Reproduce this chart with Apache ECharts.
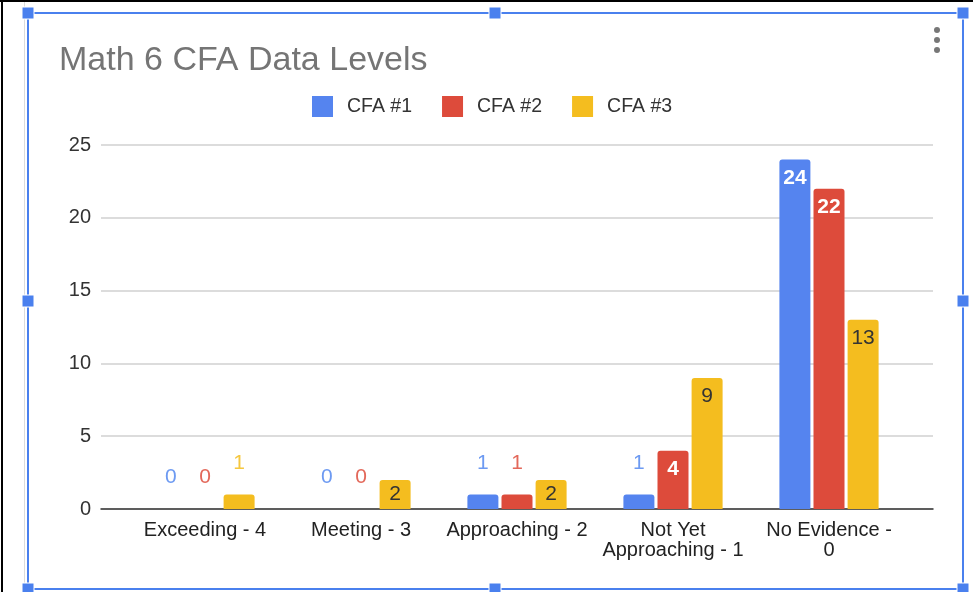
<!DOCTYPE html>
<html>
<head>
<meta charset="utf-8">
<script src="https://cdn.jsdelivr.net/npm/echarts@6/dist/echarts.min.js"></script>
<style>
  html, body { margin: 0; padding: 0; background: #fff; }
  #chart { width: 973px; height: 592px; }
</style>
</head>
<body>
<div id="chart"></div>
<script>
// data
const categories = ['Exceeding - 4', 'Meeting - 3', 'Approaching - 2', 'Not Yet Approaching - 1', 'No Evidence - 0']
const tickLabels = ['Exceeding - 4', 'Meeting - 3', 'Approaching - 2', 'Not Yet\nApproaching - 1', 'No Evidence -\n0']
const cfa1 = [0, 0, 1, 1, 24]
const cfa2 = [0, 0, 1, 4, 22]
const cfa3 = [1, 2, 2, 9, 13]
const seriesNames = ['CFA #1', 'CFA #2', 'CFA #3']
const yTicks = [0, 5, 10, 15, 20, 25]

const colors = ['#5584ef', '#dd4b3b', '#f4bd1f']
const outsideColors = ['#6d9af2', '#e3685a', '#f5c73f']
const insideColors = ['#ffffff', '#ffffff', '#333333']
const FONT = '"Liberation Sans", Arial, sans-serif'

// labels: short bars get label above in series colour, others inside
const buildData = (values, idx) => values.map(v => {
  if (v < 2) {
    return {
      value: v,
      label: { position: 'top', distance: 21, color: outsideColors[idx] }
    }
  }
  return {
    value: v,
    label: {
      position: v <= 2 ? 'inside' : 'insideTop',
      distance: 8,
      color: insideColors[idx],
      fontWeight: idx < 2 ? 'bold' : 'normal'
    }
  }
})

const chart = echarts.init(document.getElementById('chart'))

const makeSeries = (name, values, idx) => ({
  name: name,
  type: 'bar',
  xAxisIndex: 0,
  yAxisIndex: 0,
  barWidth: 31,
  barGap: '10%',
  itemStyle: { color: colors[idx], borderRadius: [3, 3, 0, 0] },
  label: {
    show: true,
    fontFamily: FONT,
    fontSize: 21
  },
  data: buildData(values, idx)
})

// selection frame + handles (spreadsheet chrome)
const handle = (x, y) => ({
  type: 'rect',
  shape: { x: x - 6, y: y - 6, width: 12, height: 12 },
  style: { fill: '#4a80ee', stroke: '#ffffff', lineWidth: 1 },
  z: 20
})

const options = {
  animation: false,
  backgroundColor: '#ffffff',
  color: colors,
  title: {
    text: 'Math 6 CFA Data Levels',
    left: 54,
    top: 39,
    textStyle: { fontFamily: FONT, fontSize: 34, fontWeight: 'normal', color: '#757575' }
  },
  legend: {
    data: seriesNames,
    left: 307,
    top: 91,
    itemWidth: 21,
    itemHeight: 21,
    itemGap: 30,
    icon: 'rect',
    textStyle: { fontFamily: FONT, fontSize: 19.5, color: '#333', padding: [0, 0, 0, 9] }
  },
  grid: [
    { left: 127, right: 66, top: 145, bottom: 83 },
    { left: 101, right: 40, top: 145, bottom: 83 }
  ],
  xAxis: [
    {
      type: 'category',
      gridIndex: 0,
      data: categories,
      axisLine: { show: false },
      axisTick: { show: false },
      axisLabel: {
        interval: 0,
        margin: 11,
        fontFamily: FONT,
        fontSize: 20,
        lineHeight: 20,
        color: '#222',
        formatter: (value, i) => tickLabels[i]
      }
    },
    {
      type: 'value',
      gridIndex: 1,
      min: 0,
      max: 1,
      axisLine: { show: true, lineStyle: { color: '#333', width: 1.5 } },
      axisTick: { show: false },
      axisLabel: { show: false },
      splitLine: { show: false }
    }
  ],
  yAxis: [
    {
      type: 'value',
      gridIndex: 0,
      min: 0,
      max: 25,
      interval: 5,
      show: false,
      splitLine: { show: false }
    },
    {
      type: 'value',
      gridIndex: 1,
      min: yTicks[0],
      max: yTicks[yTicks.length - 1],
      interval: 5,
      axisLine: { show: false },
      axisTick: { show: false },
      axisLabel: { margin: 10, fontFamily: FONT, fontSize: 20, color: '#333' },
      splitLine: { lineStyle: { color: '#d0d0d0', width: 1.5 } }
    }
  ],
  series: [
    makeSeries(seriesNames[0], cfa1, 0),
    makeSeries(seriesNames[1], cfa2, 1),
    makeSeries(seriesNames[2], cfa3, 2)
  ],
  graphic: [
    // sheet borders
    { type: 'rect', shape: { x: 1, y: 0, width: 2, height: 592 }, style: { fill: '#000' }, z: 10 },
    { type: 'rect', shape: { x: 0, y: 0, width: 973, height: 2 }, style: { fill: '#000' }, z: 10 },
    { type: 'line', shape: { x1: 24.5, y1: 2, x2: 24.5, y2: 592 }, style: { stroke: '#dcdcdc', lineWidth: 1 }, z: 10 },
    // selection rectangle
    {
      type: 'rect',
      shape: { x: 28, y: 13, width: 935, height: 576 },
      style: { fill: 'none', stroke: '#4a80ee', lineWidth: 2 },
      z: 15
    },
    handle(28, 13), handle(495, 13), handle(963, 13),
    handle(28, 301), handle(963, 301),
    handle(28, 589), handle(495, 589), handle(963, 589),
    // menu dots
    { type: 'circle', shape: { cx: 937, cy: 30, r: 3 }, style: { fill: '#777' }, z: 10 },
    { type: 'circle', shape: { cx: 937, cy: 40, r: 3 }, style: { fill: '#777' }, z: 10 },
    { type: 'circle', shape: { cx: 937, cy: 50, r: 3 }, style: { fill: '#777' }, z: 10 }
  ]
}

chart.setOption(options)
</script>
</body>
</html>
